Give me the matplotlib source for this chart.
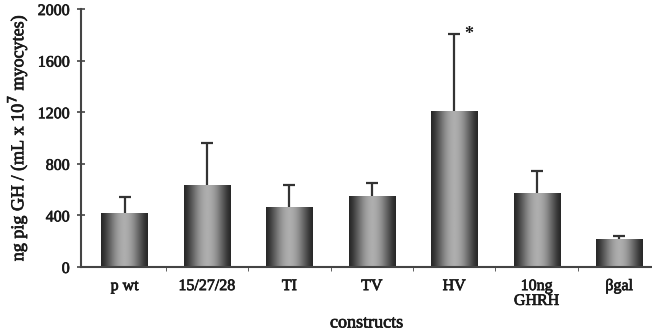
import numpy as np
import matplotlib.pyplot as plt
import matplotlib.patheffects as pe
from matplotlib.patches import Rectangle

# ======================
# DATA
# ======================
constructs = ["p wt", "15/27/28", "TI", "TV", "HV", "10ng\nGHRH", "βgal"]
gh_mean = [418, 636, 465, 550, 1209, 574, 217]
gh_err = [125, 325, 171, 101, 597, 170, 23]
y_ticks = [0, 400, 800, 1200, 1600, 2000]

plt.rcParams['font.family'] = ['Liberation Serif', 'DejaVu Serif']
ink = "#1a1a1a"
# slightly thickened text strokes
heavy = [pe.withStroke(linewidth=0.5, foreground=ink)]

fig = plt.figure(figsize=(6.52, 3.35), dpi=100)
ax = fig.add_axes([0.124, 0.203, 0.876, 0.770])

x = np.arange(len(constructs))
width = 0.56

# shaded cylinder look: dark edges, light middle
t = np.linspace(0, 1, 64)
shade = 0.16 + 0.52 * np.sin(np.pi * t) ** 1.4
shade = np.tile(shade, (2, 1))

bars = ax.bar(x, gh_mean, width=width, color="none", edgecolor="none", zorder=2)
for rect in bars:
    x0, w, h = rect.get_x(), rect.get_width(), rect.get_height()
    im = ax.imshow(shade, cmap="gray", vmin=0, vmax=1, aspect="auto",
                   extent=[x0, x0 + w, 0, h], interpolation="bilinear", zorder=2)
    im.set_clip_path(Rectangle((x0, 0), w, h, transform=ax.transData))

# error bars only above the bar, cap only at the top
_, caps, _ = ax.errorbar(x, gh_mean, yerr=[np.zeros(len(gh_err)), gh_err], fmt="none",
                         ecolor="#333333", elinewidth=1.6, capsize=4, capthick=1.6,
                         zorder=3)
caps[0].set_visible(False)

# significance mark over HV
hv = constructs.index("HV")
ax.text(hv + 0.18, gh_mean[hv] + gh_err[hv], "*", ha="center", va="center",
        fontsize=13, fontweight="bold", color=ink)

ax.set_xlim(-0.53, 6.4)
ax.set_ylim(0, 2000)
ax.set_yticks(y_ticks)
ax.set_yticklabels([str(v) for v in y_ticks], fontsize=11.5, color=ink)
ax.set_xticks(x)
ax.set_xticklabels(constructs, fontsize=11.5, color=ink, linespacing=0.9)
ax.set_xticks(x[:-1] + 0.5, minor=True)
ax.tick_params(axis="x", which="major", length=0, pad=8)
ax.tick_params(axis="x", which="minor", length=3, direction="out", color="#444444")
ax.tick_params(axis="y", length=6, direction="inout", color="#444444", width=1.2, pad=5)

for side in ["top", "right"]:
    ax.spines[side].set_visible(False)
for side in ["left", "bottom"]:
    ax.spines[side].set_linewidth(1.5)
    ax.spines[side].set_color("#444444")

ax.set_ylabel("ng pig GH / (mL x 10$^{7}$ myocytes)", fontsize=13, color=ink,
              labelpad=6)
ax.set_xlabel("constructs", fontsize=13, color=ink, labelpad=4)

for lbl in ax.get_xticklabels() + ax.get_yticklabels() + [ax.xaxis.label, ax.yaxis.label]:
    lbl.set_path_effects(heavy)

fig.savefig("out.png", dpi=100)
